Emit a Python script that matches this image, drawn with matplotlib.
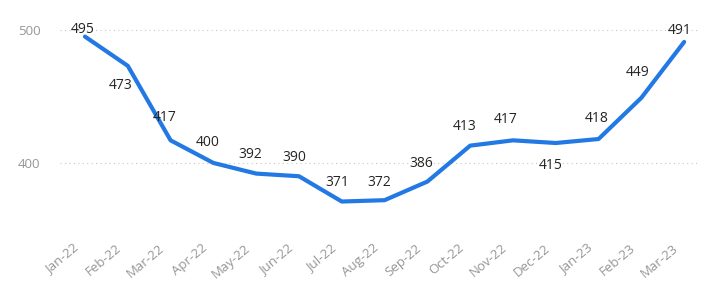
# Monthly values line chart (Power BI style)
import matplotlib
matplotlib.use("Agg")
import matplotlib.pyplot as plt
from matplotlib.transforms import ScaledTranslation

plt.rcParams["font.family"] = ["Open Sans", "DejaVu Sans"]

months = ["Jan-22", "Feb-22", "Mar-22", "Apr-22", "May-22", "Jun-22", "Jul-22", "Aug-22",
          "Sep-22", "Oct-22", "Nov-22", "Dec-22", "Jan-23", "Feb-23", "Mar-23"]
values = [495, 473, 417, 400, 392, 390, 371, 372, 386, 413, 417, 415, 418, 449, 491]

# label offsets in points (dx, dy)
label_offsets = [(-2, 5), (-5, -14), (-4, 16.5), (-4, 14.5), (-4, 13.5), (-3.5, 13.5),
                 (-3.5, 13.5), (-4, 13), (-4.5, 13), (-4, 14), (-5, 15), (-3.5, -16.5),
                 (-1, 15), (-3, 18), (-3, 8)]

fig = plt.figure(figsize=(7.03, 2.84), dpi=100)
ax = fig.add_axes([60 / 703, 62 / 284, 640 / 703, 212 / 284])

x = range(len(months))
ax.plot(x, values, color="#2279E3", linewidth=3, solid_joinstyle="round",
        solid_capstyle="round", zorder=3)

for i, (v, (dx, dy)) in enumerate(zip(values, label_offsets)):
    ax.annotate(str(v), (i, v), xytext=(dx, dy), textcoords="offset points",
                ha="center", va="center", fontsize=10, color="#252423", zorder=4)

ax.set_xlim(-0.584, 14.37)
ax.set_ylim(355.6, 515)
ax.set_yticks([400, 500])
ax.set_xticks(list(x))
ax.set_xticklabels(months, rotation=40, ha="right", rotation_mode="anchor")
ax.tick_params(axis="x", length=0, pad=14, labelsize=9.5, labelcolor="#969696")
ax.tick_params(axis="y", length=0, pad=14, labelsize=9.5, labelcolor="#969696")
shift = ScaledTranslation(-12 / 100, 0, fig.dpi_scale_trans)
for lbl in ax.get_xticklabels():
    lbl.set_transform(lbl.get_transform() + shift)
ax.grid(axis="y", linestyle=(0, (1, 3)), color="#c8c8c8", linewidth=0.8)
ax.set_axisbelow(True)
for s in ax.spines.values():
    s.set_visible(False)

fig.savefig("out.png", dpi=100)
